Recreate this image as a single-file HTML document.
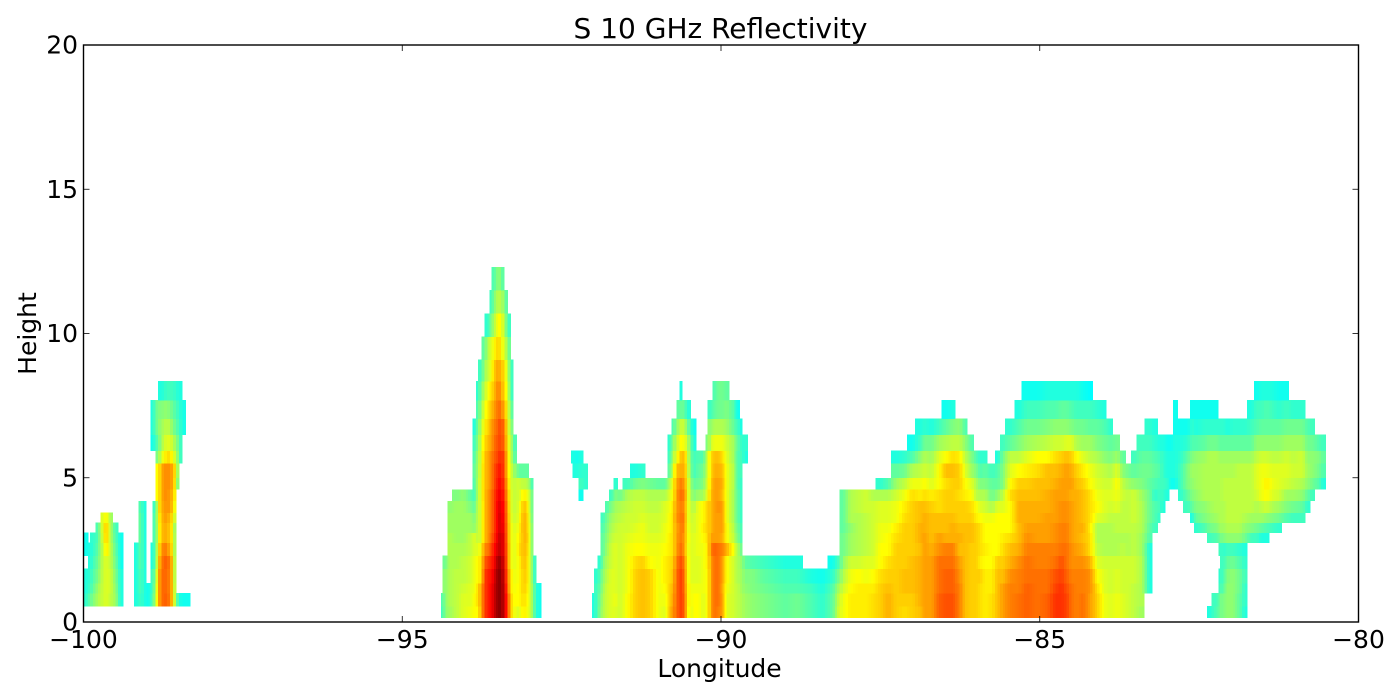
<!DOCTYPE html>
<html>
<head>
<meta charset="utf-8">
<title>S 10 GHz Reflectivity</title>
<style>
html,body{margin:0;padding:0;background:#fff;width:1400px;height:700px;overflow:hidden}
svg{display:block}
text{font-family:"DejaVu Sans","Liberation Sans",sans-serif;fill:#000}
</style>
</head>
<body>
<svg id="chart" width="1400" height="700" viewBox="0 0 1400 700" xmlns="http://www.w3.org/2000/svg">
  <rect x="0" y="0" width="1400" height="700" fill="#fff"/>
  <g id="cells" shape-rendering="crispEdges"></g>
  <rect x="83.5" y="45" width="1275" height="577" fill="none" stroke="#000" stroke-width="1.4"/>
  <g id="ticks"></g>
  <text x="720.5" y="38" font-size="28" text-anchor="middle">S 10 GHz Reflectivity</text>
  <text x="719.5" y="677" font-size="25" text-anchor="middle">Longitude</text>
  <text x="36" y="333.5" font-size="25" text-anchor="middle" transform="rotate(-90 36 333.5)">Height</text>
</svg>
<script>
const xTicks = [-100, -95, -90, -85, -80];
const xTickLabels = ["\u2212100", "\u221295", "\u221290", "\u221285", "\u221280"];
const yTicks = [0, 5, 10, 15, 20];
const yTickLabels = ["0", "5", "10", "15", "20"];
const heightEdges = [0.15,0.55,1.0,1.35,1.85,2.3,2.75,3.1,3.45,3.8,4.2,4.6,5.0,5.5,5.95,6.5,7.05,7.7,8.35,9.1,9.9,10.7,11.5,12.3];
const longitudes = [
-99.96,-99.9,-99.85,-99.77,-99.69,-99.64,-99.58,-99.5,-99.42,
-99.17,-99.1,-99.05,-98.98,-98.92,-98.87,-98.83,-98.78,-98.74,-98.69,-98.64,-98.6,-98.55,-98.5,-98.45,-98.4,-98.35,
-94.37,-94.32,-94.26,-94.15,-94.04,-93.93,-93.87,-93.81,-93.76,-93.71,-93.66,-93.6,-93.56,-93.5,-93.45,-93.4,-93.35,-93.3,-93.26,-93.21,-93.17,-93.1,-93.05,-92.99,-92.95,-92.9,-92.85,
-92.33,-92.28,-92.19,-92.13,-92.06,
-91.99,-91.94,-91.89,-91.85,-91.79,-91.72,-91.66,-91.58,-91.47,-91.34,-91.23,-91.11,-90.98,-90.87,-90.81,-90.75,-90.7,-90.65,-90.61,-90.57,-90.53,-90.48,-90.43,-90.35,-90.28,-90.21,-90.16,-90.1,-90.04,-89.98,-89.91,-89.8,-89.74,-89.67,-89.62,
-89.51,-89.35,-89.18,-88.99,-88.8,-88.6,-88.41,-88.25,-88.14,
-88.09,-87.97,-87.85,-87.72,-87.61,-87.5,-87.38,-87.25,-87.12,-87.0,-86.87,-86.81,-86.7,-86.58,-86.47,-86.36,-86.26,-86.17,-86.07,-86.0,-85.94,-85.86,-85.75,-85.66,-85.58,-85.47,-85.33,-85.2,-85.04,-84.88,-84.75,-84.66,-84.58,-84.5,-84.42,-84.32,-84.21,-84.1,-83.99,-83.89,-83.79,-83.7,-83.61,-83.52,-83.4,-83.28,-83.2,-83.11,-83.06,-83.0,-82.94,-82.88,-82.79,
-82.68,-82.61,-82.55,-82.41,-82.34,-82.23,-82.17,-82.12,-82.06,-81.97,-81.87,-81.78,-81.68,-81.6,-81.52,-81.44,-81.36,-81.25,-81.13,-81.02,-80.88,-80.8,-80.72,-80.62,-80.55
];
const reflectivity = [
[0,25,24,24,0,23,23],
[0,28,26,25,24,24],
[0,30,28,27,26,25,25],
[0,33,32,30,29,28,27,27],
[0,35,35,35,35,35,37,38,36],
[0,36,36,36,36,40,42,42,39],
[0,34,35,35,34,34,33,33,32],
[0,32,31,30,29,28,27,26],
[0,24,24,24,23,23,23],
[0,24,24,24,24,24],
[0,26,27,27,28,28,28,28,28,27],
[0,24,24,24,24,24,24,24,24,24],
[0,23,23],
[0,27,26,26,24,24,0,0,0,0,0,0,0,0,23,24,24],
[0,33,32,30,28,28,27,27,27,26,0,0,0,0,26,28,28],
[0,42,42,42,40,38,36,36,37,38,38,38,38,30,28,30,30],
[0,47,47,47,46,44,42,42,42,43,43,43,43,36,32,32,30,24],
[0,48,48,48,48,47,43,43,44,44,45,45,45,38,35,33,31,25],
[0,48,47,47,48,45,43,43,44,45,45,45,45,40,36,34,31,26],
[0,46,46,46,46,43,41,41,42,44,44,45,45,40,36,33,30,26],
[0,40,40,40,40,38,38,38,39,41,42,43,43,37,34,30,28,26],
[0,30,29,28,28,28,28,27,32,34,36,37,38,34,31,28,27,25],
[0,24,0,0,0,0,0,0,0,0,0,25,27,28,28,26,25,24],
[0,23,0,0,0,0,0,0,0,0,0,0,0,24,24,24,24,24],
[0,23,0,0,0,0,0,0,0,0,0,0,0,0,0,23,23],
[0,23],
[26,27],
[31,31,31,31,29],
[32,33,33,33,33,33,33,32,32,31],
[34,34,34,34,33,33,32,32,32,32,30],
[36,36,35,34,34,33,32,32,32,32,31],
[37,36,36,35,35,34,34,32,32,30,28],
[38,38,37,37,37,36,36,31,30,28,26,27,28,27,26,24],
[38,40,40,38,38,36,34,34,34,34,33,33,32,32,30,29,27,25],
[44,44,44,40,40,38,36,36,36,36,37,37,37,36,36,34,32,30,26],
[50,50,50,50,48,46,42,42,42,42,42,42,42,42,40,39,37,34,32,28],
[52,52,52,52,50,46,44,44,44,44,44,43,43,43,42,40,39,37,34,33,25],
[54,54,54,53,52,50,48,47,47,47,47,46,46,46,44,44,42,40,37,36,30,26],
[57,57,57,56,54,53,51,50,50,50,50,49,49,48,47,46,44,42,41,38,33,30,27],
[61,61,61,61,60,57,56,55,55,55,54,53,52,50,49,48,47,46,44,41,38,34,31],
[61,61,61,61,60,58,58,57,57,56,55,54,53,52,50,50,47,44,42,39,38,33,30],
[57,57,57,56,55,54,54,53,52,52,51,50,49,49,47,46,42,40,40,35,33,31,26],
[50,50,48,47,46,46,45,45,45,44,43,42,40,40,39,38,38,36,34,32,27,25],
[42,42,40,40,38,38,38,38,37,37,37,36,36,35,34,32,30,28,28,26,25],
[38,38,37,37,36,36,36,36,35,34,34,34,33,30,30,28,26,24,24],
[36,38,38,37,37,37,37,36,35,35,35,35,30,26,24],
[36,38,38,38,38,40,39,38,37,36,35,35,28],
[39,40,41,41,42,42,42,43,43,42,39,34,28],
[38,39,40,41,41,42,43,42,42,41,38,34,28],
[35,35,35,35,35,35,35,35,34,33,33,30],
[30,30,30,28,28,27,27,27,26,26,26,24],
[25,25,25,24,24],
[23,23,23],
[0,0,0,0,0,0,0,0,0,0,0,0,0,24],
[0,0,0,0,0,0,0,0,0,0,0,0,24,23],
[0,0,0,0,0,0,0,0,0,0,23,26,25,24],
[0,0,0,0,0,0,0,0,0,0,0,25,25],
[],
[24,24],
[27,27,26,25],
[31,30,29,28,25],
[33,33,32,31,30,28,28,27,26],
[35,35,35,34,33,32,31,30,29,27],
[36,36,36,36,35,35,34,33,32,30,26],
[36,37,36,36,36,36,35,34,33,32,30,25],
[35,35,35,35,35,35,35,35,34,33,29],
[38,38,37,37,37,37,36,35,35,34,33,26],
[41,41,41,41,40,38,37,36,35,35,34,29,24],
[42,42,42,42,41,38,37,37,36,35,34,30,25],
[41,41,41,41,38,37,36,35,35,34,33,29],
[37,37,37,37,37,37,36,35,35,34,33,28],
[36,37,38,39,39,38,37,37,36,36,33,28],
[42,41,41,40,40,39,39,38,38,37,36,33,28,26,25],
[45,44,43,42,41,40,40,40,40,40,38,38,35,33,31,27],
[47,47,47,47,46,44,44,44,45,44,44,43,42,36,33,30],
[50,50,50,50,49,47,46,45,46,46,47,46,43,41,38,34,28],
[50,50,50,50,49,47,46,47,47,46,47,46,43,42,38,35,29,24],
[48,48,47,47,46,44,44,45,46,45,46,44,43,42,37,34,28],
[40,40,40,39,39,38,39,38,38,38,39,39,38,37,35,30,25],
[36,37,37,36,36,36,36,36,35,35,33,32,30,29,29,26,24],
[38,38,37,36,36,36,36,35,35,33,30,28,26,26,24,23],
[38,38,37,36,36,37,37,37,37,37,32,29,28,27],
[36,36,37,37,37,37,38,39,38,38,32,30,29,27],
[38,38,38,38,39,39,40,41,41,41,37,36,35,35,30],
[44,44,44,44,44,46,44,42,42,42,42,41,40,40,35,31,26],
[47,47,47,47,47,48,44,44,44,44,44,44,43,42,37,33,28,27],
[46,47,47,47,47,47,44,44,44,45,44,44,43,42,37,33,29,29],
[44,44,43,44,44,46,43,44,44,44,42,43,42,40,37,33,29,29],
[36,36,37,38,38,43,38,38,37,37,37,37,37,36,35,32,30,28],
[35,35,35,35,35,37,34,33,32,32,32,33,33,32,32,28,27],
[34,34,34,33,33,33,30,29,28,28,28,27,27,27,28,26,23],
[33,33,32,32,31,28,26,26,25,25,25,25,26,26,25,23],
[32,32,31,30,28,0,0,0,0,0,0,0,0,24,25],
[31,31,30,30,27],
[30,30,29,28,26],
[29,29,28,27,25],
[28,28,27,26,24],
[29,29,27,26,24],
[27,27,26,24],
[25,25,24,23],
[28,28,27,25,23],
[36,35,33,30,27],
[37,37,35,33,31,29,29,28,28,28,28],
[39,39,38,37,35,32,32,31,33,33,33],
[39,39,39,38,35,33,33,33,33,34,34],
[39,39,39,37,36,34,34,34,34,35,35],
[40,40,39,38,36,35,35,35,35,35,33],
[41,41,41,40,38,38,37,37,36,36,33,25],
[43,43,42,41,40,38,38,37,36,36,33,27],
[41,41,41,41,41,41,40,39,37,37,35,32,28,24],
[40,41,42,42,41,41,41,41,40,39,37,34,29,25],
[41,41,42,42,42,41,41,41,41,41,40,37,33,27,23],
[42,43,43,43,43,42,43,43,42,42,39,37,34,31,26,24],
[44,44,44,44,44,44,44,43,43,42,40,38,35,33,29,25],
[44,44,44,44,44,43,42,42,42,41,39,36,34,32,29,24],
[48,48,47,47,47,45,44,42,42,40,40,38,38,36,32,26],
[49,49,48,48,47,46,43,42,42,41,41,40,42,38,33,28,23],
[49,49,48,48,47,46,43,43,42,41,41,41,42,40,34,30,24],
[46,46,46,45,44,42,43,42,41,41,40,41,41,39,34,31],
[42,42,42,42,42,42,42,42,41,41,39,38,36,34,31,27],
[41,41,41,41,41,41,42,42,41,40,38,36,32,30,27],
[41,41,41,41,41,41,41,41,39,38,34,33,30,27],
[40,40,40,41,39,40,40,40,38,36,33,30,27,25],
[39,39,39,39,38,39,38,38,37,35,33,30,28,25],
[40,40,39,39,38,38,38,38,37,33,29,28,26],
[42,42,42,42,41,38,38,38,38,36,31,28,27,24],
[44,44,44,42,41,40,39,38,38,36,34,30,30,29,26],
[46,46,46,45,43,42,40,38,38,38,40,38,36,34,28,25],
[47,47,46,46,45,43,42,42,43,43,42,41,38,34,30,27,24],
[48,48,48,47,47,46,45,44,43,43,42,41,39,36,32,29,26,23],
[47,47,47,47,46,46,44,44,43,43,42,42,40,38,33,29,26,23],
[48,48,47,47,46,46,44,44,44,43,43,42,42,38,34,30,27,24],
[51,51,50,49,47,46,45,45,44,44,44,43,42,40,35,31,27,24],
[51,51,51,50,49,47,46,46,45,45,44,44,43,41,35,31,28,24],
[50,50,49,48,47,47,46,46,45,45,44,44,44,42,36,31,28,24],
[47,47,47,46,45,45,44,44,44,44,43,44,43,41,36,30,27,24],
[46,46,46,46,45,44,43,43,43,43,43,42,41,38,33,29,26,24],
[47,47,46,46,45,43,42,43,42,42,42,41,39,36,32,29,26,23],
[44,44,45,45,43,40,40,39,40,40,40,38,37,34,32,28,26,22],
[41,41,40,38,36,34,33,33,36,38,37,36,35,33,30,28,25],
[37,37,36,36,35,33,33,33,35,36,36,35,34,31,29,27,24],
[36,36,35,35,35,33,33,33,34,35,36,35,33,30,28,25],
[37,37,36,36,35,33,33,34,34,36,37,38,36,32,29],
[36,36,35,35,35,34,33,34,34,34,35,34,31,28],
[35,35,35,35,35,33,33,34,34,34,34,32,29],
[34,34,34,35,35,34,34,34,35,35,35,31,28,26],
[32,33,33,33,33,32,32,33,33,33,32,30,29,28,26],
[0,0,24,24,24,24,27,28,29,29,29,28,29,28,26,25],
[0,0,0,0,0,0,0,26,27,27,25,27,28,27,25,24],
[0,0,0,0,0,0,0,0,25,26,26,26,27,26,24],
[0,0,0,0,0,0,0,0,0,24,25,26,25,25,24],
[0,0,0,0,0,0,0,0,0,0,24,25,24,24,23],
[0,0,0,0,0,0,0,0,0,0,0,23,24,24,23],
[0,0,0,0,0,0,0,0,0,0,0,23,24,24,24,23,23],
[0,0,0,0,0,0,0,0,0,0,25,26,26,25,24,23],
[0,0,0,0,0,0,0,0,0,26,28,30,30,28,25,23],
[0,0,0,0,0,0,0,0,24,28,30,31,32,30,27,25,23],
[0,0,0,0,0,0,0,25,28,30,31,32,32,31,27,24,23],
[0,0,0,0,0,0,0,27,30,31,33,33,33,32,28,25,23],
[24,0,0,0,0,0,26,29,31,32,33,33,33,33,29,25,23],
[27,26,0,0,0,0,27,30,32,33,33,33,33,33,29,25,23],
[29,29,26,25,0,26,29,32,33,33,33,33,33,32,28,25],
[30,30,28,27,26,25,30,32,33,33,34,34,33,32,28,25],
[31,31,31,30,28,26,31,33,34,34,34,34,33,32,28,24],
[31,31,31,31,29,26,31,33,34,34,34,34,33,32,28,25],
[28,28,29,29,27,25,31,33,34,34,34,34,34,32,28,25],
[24,25,25,26,25,24,29,31,33,34,34,34,34,32,28,25],
[0,0,0,0,0,0,26,30,32,34,34,34,34,32,28,26,24],
[0,0,0,0,0,0,26,29,32,33,35,36,36,34,31,27,26,23],
[0,0,0,0,0,0,24,28,32,34,37,37,37,35,31,28,26,24],
[0,0,0,0,0,0,24,27,31,35,38,39,37,35,31,28,27,24],
[0,0,0,0,0,0,0,26,30,33,36,37,36,34,31,28,26,24],
[0,0,0,0,0,0,0,25,29,32,35,36,36,34,31,28,25,23],
[0,0,0,0,0,0,0,0,27,30,32,35,36,35,32,29,26,23],
[0,0,0,0,0,0,0,0,26,29,32,34,35,34,32,29,25],
[0,0,0,0,0,0,0,0,26,28,31,33,35,35,32,29,25],
[0,0,0,0,0,0,0,0,0,25,28,31,32,31,29,27],
[0,0,0,0,0,0,0,0,0,0,26,29,31,31,29,26],
[0,0,0,0,0,0,0,0,0,0,0,27,29,30,27],
[0,0,0,0,0,0,0,0,0,0,0,24,27,28,26],
[0,0,0,0,0,0,0,0,0,0,0,0,25,26,24],
[0,0,0,0,0,0,0,0,0,0,0,0,0,24]
];
const colorMin = -2;
const colorMax = 62;

const svgNS = "http://www.w3.org/2000/svg";
const plot = { left: 83.5, right: 1358.5, top: 45, bottom: 622, xMin: -100, xMax: -80, yMin: 0, yMax: 20 };
const maxJoinGap = 0.21;

function xScale(lon) {
  return plot.left + (lon - plot.xMin) / (plot.xMax - plot.xMin) * (plot.right - plot.left);
}
function yScale(h) {
  return plot.bottom - (h - plot.yMin) / (plot.yMax - plot.yMin) * (plot.bottom - plot.top);
}
function clip01(v) {
  return Math.max(0, Math.min(1, v));
}
function jetColor(value) {
  const t = clip01((value - colorMin) / (colorMax - colorMin));
  const r = clip01(Math.min(4 * t - 1.5, -4 * t + 4.5));
  const g = clip01(Math.min(4 * t - 0.5, -4 * t + 3.5));
  const b = clip01(Math.min(4 * t + 0.5, -4 * t + 2.5));
  return "rgb(" + Math.round(r * 255) + "," + Math.round(g * 255) + "," + Math.round(b * 255) + ")";
}

const cellsGroup = document.getElementById("cells");
const rowCount = heightEdges.length - 1;

function drawStrip(lon0, lon1, valueAt) {
  const x0 = xScale(lon0);
  const x1 = xScale(lon1);
  for (let r = 0; r < rowCount; r++) {
    const v = valueAt(r);
    if (!v) continue;
    const y0 = yScale(heightEdges[r + 1]);
    const y1 = yScale(heightEdges[r]);
    const rect = document.createElementNS(svgNS, "rect");
    rect.setAttribute("x", x0.toFixed(2));
    rect.setAttribute("y", y0.toFixed(2));
    rect.setAttribute("width", (x1 - x0 + 0.4).toFixed(2));
    rect.setAttribute("height", (y1 - y0 + 0.4).toFixed(2));
    rect.setAttribute("fill", jetColor(v));
    
    
    cellsGroup.appendChild(rect);
  }
}

for (let i = 0; i < longitudes.length; i++) {
  const col = reflectivity[i];
  const prevGap = i > 0 ? longitudes[i] - longitudes[i - 1] : Infinity;
  const nextGap = i < longitudes.length - 1 ? longitudes[i + 1] - longitudes[i] : Infinity;
  const joinedPrev = prevGap <= maxJoinGap;
  const joinedNext = nextGap <= maxJoinGap;
  if (!joinedPrev && joinedNext) {
    drawStrip(longitudes[i] - nextGap / 2, longitudes[i], r => col[r] || 0);
  }
  if (joinedPrev && !joinedNext) {
    drawStrip(longitudes[i], longitudes[i] + prevGap / 2, r => col[r] || 0);
  }
  if (joinedNext) {
    const nextCol = reflectivity[i + 1];
    const steps = Math.max(1, Math.round((xScale(longitudes[i + 1]) - xScale(longitudes[i])) / 2.5));
    for (let s = 0; s < steps; s++) {
      const f0 = s / steps;
      const f1 = (s + 1) / steps;
      const fm = (f0 + f1) / 2;
      drawStrip(
        longitudes[i] + f0 * nextGap,
        longitudes[i] + f1 * nextGap,
        r => {
          const a = col[r] || 0;
          const b = nextCol[r] || 0;
          if (a && b) return a + (b - a) * fm;
          return fm < 0.5 ? a : b;
        }
      );
    }
  }
}

const ticksGroup = document.getElementById("ticks");
function addLine(x1, y1, x2, y2, name) {
  const line = document.createElementNS(svgNS, "line");
  line.setAttribute("x1", x1);
  line.setAttribute("y1", y1);
  line.setAttribute("x2", x2);
  line.setAttribute("y2", y2);
  line.setAttribute("stroke", "#000");
  line.setAttribute("stroke-width", "0.8");
  
  
  ticksGroup.appendChild(line);
}
function addLabel(x, y, str, anchor, name) {
  const t = document.createElementNS(svgNS, "text");
  t.setAttribute("x", x);
  t.setAttribute("y", y);
  t.setAttribute("font-size", "25");
  t.setAttribute("text-anchor", anchor);
  
  
  t.textContent = str;
  ticksGroup.appendChild(t);
}
const tickLen = 6;
xTicks.forEach((v, i) => {
  const x = xScale(v);
  addLine(x, plot.bottom, x, plot.bottom - tickLen, "x-tick");
  addLine(x, plot.top, x, plot.top + tickLen, "x-tick-top");
  addLabel(x, 648, xTickLabels[i], "middle", "x-tick-label");
});
yTicks.forEach((v, i) => {
  const y = yScale(v);
  addLine(plot.left, y, plot.left + tickLen, y, "y-tick");
  addLine(plot.right, y, plot.right - tickLen, y, "y-tick-right");
  addLabel(78, y + 8.5, yTickLabels[i], "end", "y-tick-label");
});
</script>
</body>
</html>
